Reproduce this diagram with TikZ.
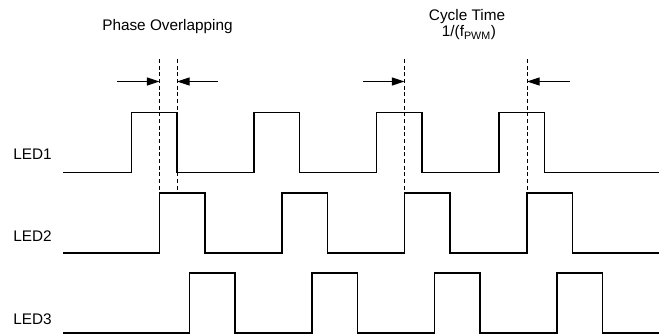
\documentclass[tikz,border=0pt]{standalone}
\usepackage{fontspec}
\setmainfont{Liberation Sans}
\usetikzlibrary{arrows.meta}
\tikzset{wave/.style={black,line width=1.3pt,line join=miter}, guide/.style={black,line width=0.7pt,dash pattern=on 3pt off 2pt}, gap arrow/.style={black,line width=0.8pt,-{Triangle[length=9.5pt,width=6pt]}}, every node/.style={font=\fontsize{11.5}{13}\selectfont, inner sep=0pt}}

\begin{document}
\begin{tikzpicture}[x=0.75pt,y=-0.75pt]
   \useasboundingbox (0,0) rectangle (669,335);
   % labels
   \node[anchor=base] (phase) at (167.5,30.7) {Phase Overlapping};
   \node[anchor=base] (cycle) at (467,20.7) {Cycle Time};
   \node[anchor=base] (fpwm) at (469,36.8) {1/(f\textsubscript{PWM})};
   \node[anchor=base west] (led1) at (13,160) {LED1};
   \node[anchor=base west] (led2) at (13,241.7) {LED2};
   \node[anchor=base west] (led3) at (13,324.3) {LED3};
   % waveforms
   \draw[wave] (63,172.5) foreach \k in {0,...,3} {
     -- ({131.5+122.5*\k},172.5) -- ++(0,-60) -- ++(45.5,0) -- ++(0,60)} -- (659,172.5);
   \draw[wave] (63,252.7) foreach \k in {0,...,3} {
     -- ({159.5+122.5*\k},252.7) -- ++(0,-60) -- ++(45.5,0) -- ++(0,60)} -- (659,252.7);
   \draw[wave] (63,332.7) foreach \k in {0,...,3} {
     -- ({189.5+122.5*\k},332.7) -- ++(0,-60) -- ++(45.5,0) -- ++(0,60)} -- (659,332.7);
   % guide lines
   \coordinate (ovA) at (159.5,59);
   \coordinate (ovB) at (177,59);
   \coordinate (cyA) at (404.5,59);
   \coordinate (cyB) at (527,59);
   \foreach \g in {ovA,ovB,cyA,cyB}
     \draw[guide] (\g) -- ++(0,133.7);
   % arrows
   \coordinate (ovAtail) at (117,81.5);
   \coordinate (ovBtail) at (218,81.5);
   \coordinate (cyAtail) at (363,81.5);
   \coordinate (cyBtail) at (570,81.5);
   \draw[gap arrow] (ovAtail) -- (ovAtail -| ovA);
   \draw[gap arrow] (ovBtail) -- (ovBtail -| ovB);
   \draw[gap arrow] (cyAtail) -- (cyAtail -| cyA);
   \draw[gap arrow] (cyBtail) -- (cyBtail -| cyB);
\end{tikzpicture}
\end{document}
